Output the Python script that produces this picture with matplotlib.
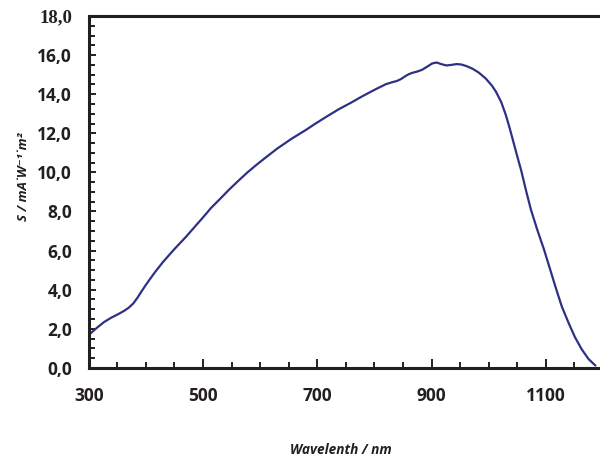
import matplotlib
matplotlib.use("Agg")
import matplotlib.pyplot as plt
from matplotlib.ticker import MultipleLocator

# Data
wavelength = [300, 315, 327, 340, 351, 362, 370, 378, 385, 392, 400, 408, 416, 430,
              450, 470, 485, 500, 514, 530, 545, 560, 577, 592, 607, 630, 655, 680,
              696, 715, 737, 760, 778, 800, 820, 832, 839, 847, 854, 860, 866, 874,
              883, 892, 901, 909, 917, 926, 935, 944, 952, 961, 972, 983, 995, 1006,
              1013, 1022, 1030, 1037, 1045, 1051, 1057, 1065, 1074, 1085, 1097, 1106,
              1117, 1128, 1140, 1151, 1163, 1175, 1187]
response = [1.69, 2.07, 2.35, 2.58, 2.74, 2.92, 3.08, 3.30, 3.58, 3.90, 4.25, 4.58, 4.90, 5.42,
            6.08, 6.70, 7.20, 7.70, 8.18, 8.65, 9.10, 9.52, 9.98, 10.35, 10.70, 11.22, 11.72, 12.17,
            12.48, 12.83, 13.22, 13.58, 13.88, 14.22, 14.51, 14.62, 14.67, 14.78, 14.92, 15.02, 15.09, 15.15,
            15.24, 15.40, 15.57, 15.62, 15.54, 15.47, 15.50, 15.54, 15.52, 15.44, 15.30, 15.10, 14.80, 14.43,
            14.12, 13.60, 12.95, 12.25, 11.38, 10.73, 10.10, 9.13, 8.10, 7.08, 6.05, 5.20,
            4.15, 3.15, 2.30, 1.58, 0.95, 0.45, 0.12]

x_major = [300, 500, 700, 900, 1100]
y_major = [0, 2, 4, 6, 8, 10, 12, 14, 16, 18]
y_labels = ["0,0", "2,0", "4,0", "6,0", "8,0", "10,0", "12,0", "14,0", "16,0", "18,0"]

plt.rcParams['font.family'] = ['Open Sans', 'DejaVu Sans']

fig = plt.figure(figsize=(6.0, 4.57), dpi=100)
ax = fig.add_axes([0.148, 0.195, 0.852, 0.770])

ax.plot(wavelength, response, color="#2e3183", lw=1.6, solid_capstyle='round',
        solid_joinstyle='round')

ax.set_xlim(300, 1195)
ax.set_ylim(0, 18)

ax.set_xticks(x_major)
ax.set_xticklabels([str(v) for v in x_major])
ax.xaxis.set_minor_locator(MultipleLocator(50))
ax.set_yticks(y_major)
ax.set_yticklabels(y_labels)
ax.yaxis.set_minor_locator(MultipleLocator(0.5))

ax.tick_params(axis='both', which='both', direction='in', color='#231f20', width=1.4)
ax.tick_params(axis='x', which='major', length=6.5, pad=14, labelsize=12.5)
ax.tick_params(axis='x', which='minor', length=4)
ax.tick_params(axis='y', which='major', length=5, pad=12, labelsize=12.5)
ax.tick_params(axis='y', which='minor', length=4)

for lab in ax.get_xticklabels() + ax.get_yticklabels():
    lab.set_fontweight('bold')
    lab.set_color('#231f20')
ax.get_yticklabels()[-1].set_family(['Liberation Serif', 'DejaVu Serif'])
ax.get_yticklabels()[-1].set_fontsize(13.5)

for s in ['left', 'bottom', 'top']:
    ax.spines[s].set_linewidth(2.2)
    ax.spines[s].set_color('#231f20')
ax.spines['right'].set_visible(False)

ax.set_xlabel("Wavelenth / nm", fontsize=9.8, fontweight='bold', fontstyle='italic',
              color='#231f20')
ax.xaxis.set_label_coords(0.493, -0.214)
ax.set_ylabel("S / mA˙W⁻¹˙m²", fontsize=9.5, fontweight='bold', fontstyle='italic',
              color='#231f20')
ax.yaxis.set_label_coords(-0.116, 0.543)

fig.savefig("out.png", dpi=100)
